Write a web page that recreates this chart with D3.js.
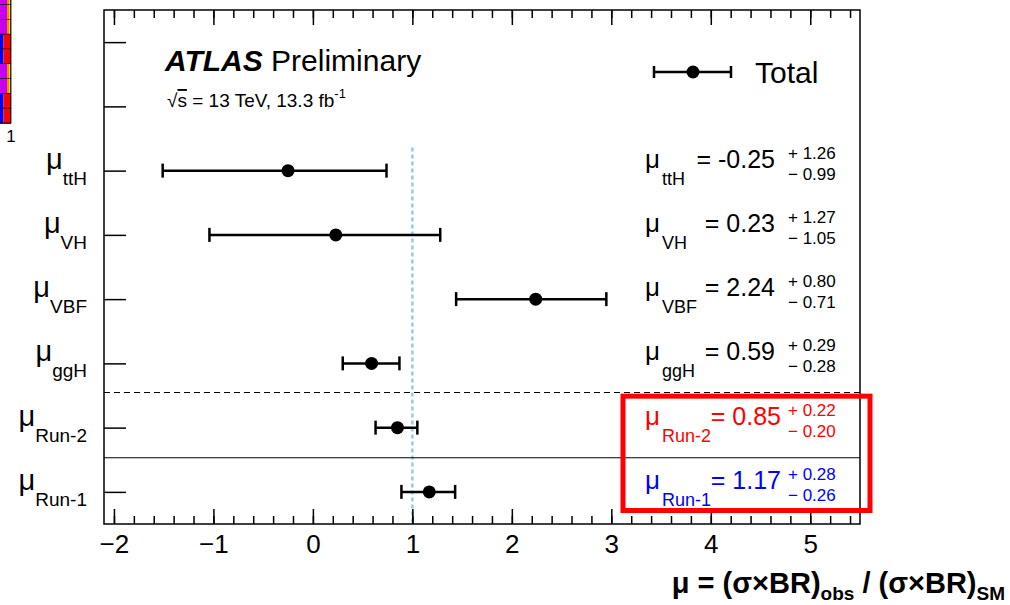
<!DOCTYPE html>
<html>
<head>
<meta charset="utf-8">
<script src="https://cdn.jsdelivr.net/npm/d3@7"></script>
<style>
  body { margin: 0; background: #fff; }
  text { font-family: "Liberation Sans", Arial, Helvetica, sans-serif; }
</style>
</head>
<body>
<div id="chart"></div>
<script>
// measured signal strengths (value, error labels as printed)
const labels = ["ttH", "VH", "VBF", "ggH", "Run-2", "Run-1"];
const values = [-0.25, 0.23, 2.24, 0.59, 0.85, 1.17];
const errUp = [1.26, 1.27, 0.80, 0.29, 0.22, 0.28];
const errDown = [0.99, 1.05, 0.71, 0.28, 0.20, 0.26];
const colors = ["black", "black", "black", "black", "#ff0000", "#0000ff"];
const slots = ["pad1", "pad2"].concat(labels);
const majorTicks = [-2, -1, 0, 1, 2, 3, 4, 5];
const minorTicks = d3.range(-10, 28).map(i => i / 5);
const stripeRows = ["p", "p", "p", "b", "b", "p", "p", "b", "b"];

const width = 1010, height = 605;
const frameL = 104, frameR = 860, frameT = 10, frameB = 524;

const svg = d3.select("#chart").append("svg")
    .attr("width", width)
    .attr("height", height);

const x = d3.scaleLinear().domain([-2.1, 5.5]).range([frameL, frameR]);
const y = d3.scalePoint().domain(slots).range([frameT, frameB]).padding(0.5);
const step = y.step();

// leftover palette strip in the corner
const strip = svg.append("g");
stripeRows.forEach((r, i) => {
    const y0 = -10 + i * 14.8;
    if (r === "p") {
        strip.append("rect").attr("x", 0).attr("y", y0).attr("width", 7).attr("height", 14.8).attr("fill", "#c800f0");
        strip.append("rect").attr("x", 7).attr("y", y0).attr("width", 2).attr("height", 14.8).attr("fill", "#ff8800");
        strip.append("rect").attr("x", 9).attr("y", y0).attr("width", 1.5).attr("height", 14.8).attr("fill", "#ffdd00");
    } else {
        strip.append("rect").attr("x", 0).attr("y", y0).attr("width", 3.5).attr("height", 14.8).attr("fill", "#0000ff");
        strip.append("rect").attr("x", 3.5).attr("y", y0).attr("width", 7).attr("height", 14.8).attr("fill", "#ff0000");
    }
    strip.append("line").attr("x1", 0).attr("x2", 11).attr("y1", y0 + 14.8).attr("y2", y0 + 14.8)
        .attr("stroke", "black").attr("stroke-width", 1.2);
});
strip.append("line").attr("x1", 10.8).attr("x2", 10.8).attr("y1", 0).attr("y2", 123.2)
    .attr("stroke", "black").attr("stroke-width", 1.2);
strip.append("text").attr("x", 11).attr("y", 142).attr("text-anchor", "middle")
    .attr("font-size", 17).text("1");

// SM reference line
svg.append("line")
    .attr("x1", x(1)).attr("x2", x(1))
    .attr("y1", y("ttH") - 0.36 * step).attr("y2", frameB)
    .attr("stroke", "#9cc6f0").attr("stroke-width", 2.5)
    .attr("stroke-dasharray", "4,3");

// separators
svg.append("line")
    .attr("x1", frameL).attr("x2", frameR)
    .attr("y1", (y("ggH") + y("Run-2")) / 2 - 3).attr("y2", (y("ggH") + y("Run-2")) / 2 - 3)
    .attr("stroke", "black").attr("stroke-width", 1).attr("stroke-dasharray", "6,4");
svg.append("line")
    .attr("x1", frameL).attr("x2", frameR)
    .attr("y1", (y("Run-2") + y("Run-1")) / 2 - 2).attr("y2", (y("Run-2") + y("Run-1")) / 2 - 2)
    .attr("stroke", "black").attr("stroke-width", 1);

// axes
function styleAxis(g) {
    g.select(".domain").remove();
    g.selectAll(".tick line").attr("stroke", "black").attr("stroke-width", 1.5);
}
svg.append("g").attr("transform", `translate(0,${frameB})`)
    .call(d3.axisBottom(x).tickValues(minorTicks).tickSize(-8).tickFormat(""))
    .call(styleAxis);
svg.append("g").attr("transform", `translate(0,${frameT})`)
    .call(d3.axisTop(x).tickValues(minorTicks).tickSize(-8).tickFormat(""))
    .call(styleAxis);
svg.append("g").attr("transform", `translate(0,${frameT})`)
    .call(d3.axisTop(x).tickValues(majorTicks).tickSize(-15).tickFormat(""))
    .call(styleAxis);
const xAxis = svg.append("g").attr("transform", `translate(0,${frameB})`)
    .call(d3.axisBottom(x).tickValues(majorTicks).tickSize(-15).tickPadding(11)
        .tickFormat(d => d < 0 ? "\u2212" + Math.abs(d) : d))
    .call(styleAxis);
xAxis.selectAll(".tick text")
    .attr("font-size", 26).attr("fill", "black")
    .attr("font-family", "Liberation Sans, Arial, sans-serif");

svg.append("g").attr("transform", `translate(${frameL},0)`)
    .call(d3.axisLeft(y).tickSize(-22).tickFormat(""))
    .call(styleAxis);

// frame
svg.append("rect")
    .attr("x", frameL).attr("y", frameT)
    .attr("width", frameR - frameL).attr("height", frameB - frameT)
    .attr("fill", "none").attr("stroke", "black").attr("stroke-width", 1.5);

// y labels
const yLab = svg.append("g").selectAll("text")
    .data(labels)
    .enter().append("text")
        .attr("x", 87)
        .attr("y", d => y(d) - 2)
        .attr("text-anchor", "end")
        .attr("font-size", 29);
yLab.append("tspan").text("\u03bc");
yLab.append("tspan").attr("dy", 16).attr("font-size", 19).text(d => d);

// error bars
const rows = labels.map((l, i) => ({ label: l, v: values[i], up: errUp[i], dn: errDown[i], c: colors[i] }));
const bars = svg.append("g").selectAll("g")
    .data(rows)
    .enter().append("g");
bars.append("line")
    .attr("x1", d => x(d.v - d.up)).attr("x2", d => x(d.v + d.dn))
    .attr("y1", d => y(d.label)).attr("y2", d => y(d.label))
    .attr("stroke", "black").attr("stroke-width", 2.5);
bars.append("line")
    .attr("x1", d => x(d.v - d.up)).attr("x2", d => x(d.v - d.up))
    .attr("y1", d => y(d.label) - 7).attr("y2", d => y(d.label) + 7)
    .attr("stroke", "black").attr("stroke-width", 2.5);
bars.append("line")
    .attr("x1", d => x(d.v + d.dn)).attr("x2", d => x(d.v + d.dn))
    .attr("y1", d => y(d.label) - 7).attr("y2", d => y(d.label) + 7)
    .attr("stroke", "black").attr("stroke-width", 2.5);
bars.append("circle")
    .attr("cx", d => x(d.v)).attr("cy", d => y(d.label))
    .attr("r", 6.5).attr("fill", "black");

// value annotations on the right
const ann = svg.append("g").selectAll("g")
    .data(rows)
    .enter().append("g")
        .attr("fill", d => d.c);
const muText = ann.append("text")
    .attr("x", 645).attr("y", d => y(d.label) - 3)
    .attr("font-size", 26);
muText.append("tspan").text("\u03bc");
muText.append("tspan").attr("dx", 2).attr("dy", 17).attr("font-size", 18).text(d => d.label);
ann.append("text")
    .attr("x", d => d.c === "black" ? 775 : 781).attr("y", d => y(d.label) - 3)
    .attr("text-anchor", "end").attr("font-size", 25)
    .text(d => "= " + d.v.toFixed(2));
ann.append("text")
    .attr("x", 788).attr("y", d => y(d.label) - 12)
    .attr("font-size", 17)
    .text(d => "+ " + d.up.toFixed(2));
ann.append("text")
    .attr("x", 788).attr("y", d => y(d.label) + 9)
    .attr("font-size", 17)
    .text(d => "\u2212 " + d.dn.toFixed(2));

// highlight box around the run results
svg.append("rect")
    .attr("x", 623).attr("y", y("Run-2") - 0.49 * step)
    .attr("width", 247).attr("height", 1.78 * step)
    .attr("fill", "none").attr("stroke", "#ff0000").attr("stroke-width", 5);

// ATLAS label
const atlas = svg.append("text").attr("x", 165).attr("y", 71).attr("font-size", 30);
atlas.append("tspan").attr("font-weight", "bold").attr("font-style", "italic").text("ATLAS");
atlas.append("tspan").text(" Preliminary");
const lumi = svg.append("text").attr("x", 167).attr("y", 107).attr("font-size", 19);
lumi.append("tspan").text("\u221a");
lumi.append("tspan").style("text-decoration", "overline").text("s");
lumi.append("tspan").text(" = 13 TeV, 13.3 fb");
lumi.append("tspan").attr("dy", -9).attr("font-size", 13).text("-1");

// legend
const leg = svg.append("g");
const ly = 72;
leg.append("line").attr("x1", 654).attr("x2", 731).attr("y1", ly).attr("y2", ly)
    .attr("stroke", "black").attr("stroke-width", 2.5);
leg.append("line").attr("x1", 654).attr("x2", 654).attr("y1", ly - 6).attr("y2", ly + 6)
    .attr("stroke", "black").attr("stroke-width", 2.5);
leg.append("line").attr("x1", 731).attr("x2", 731).attr("y1", ly - 6).attr("y2", ly + 6)
    .attr("stroke", "black").attr("stroke-width", 2.5);
leg.append("circle").attr("cx", 693).attr("cy", ly).attr("r", 6.5).attr("fill", "black");
leg.append("text").attr("x", 755).attr("y", 83).attr("font-size", 30).text("Total");

// x title
const xt = svg.append("text")
    .attr("x", 1005).attr("y", 593)
    .attr("text-anchor", "end")
    .attr("font-size", 29).attr("font-weight", "bold");
xt.append("tspan").text("\u03bc = (\u03c3\u00d7BR)");
xt.append("tspan").attr("dy", 7).attr("font-size", 19).text("obs");
xt.append("tspan").attr("dy", -7).text(" / (\u03c3\u00d7BR)");
xt.append("tspan").attr("dy", 7).attr("font-size", 19).text("SM");
</script>
</body>
</html>
